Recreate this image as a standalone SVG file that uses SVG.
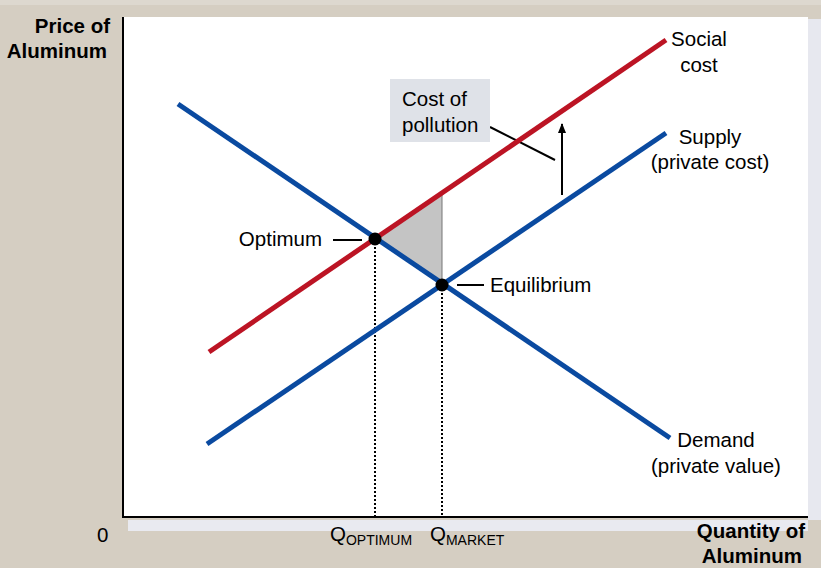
<svg xmlns="http://www.w3.org/2000/svg" width="821" height="568" viewBox="0 0 821 568">
<style>
text{font-family:"Liberation Sans",Arial,sans-serif;fill:#000}
.lbl{font-size:20.5px}
.ax{font-size:20.5px;font-weight:bold}
.sub{font-size:14px}
.blue{stroke:#0a4aa0;stroke-width:5;fill:none}
.red{stroke:#bc1424;stroke-width:5;fill:none}
.dot{stroke:#000;stroke-width:2;stroke-dasharray:2 2;fill:none}
.lead{stroke:#000;stroke-width:2;fill:none}
</style>
<defs>
<marker id="ah" viewBox="0 0 10 10" refX="9" refY="5" markerWidth="5" markerHeight="5" orient="auto"><path d="M0,1 L10,5 L0,9 Z" fill="#000"/></marker>
</defs>
<rect x="0" y="0" width="821" height="568" fill="#d5cec2"/>
<rect x="0" y="0" width="821" height="5" fill="#ddd8cf"/>
<rect x="808" y="19" width="13" height="501" fill="#e7e8ef"/>
<rect x="128" y="520" width="680" height="11" fill="#e9eaf0"/>
<rect x="124" y="17" width="684" height="500" fill="#fff"/>
<g id="axes">
<line x1="123" y1="17" x2="123" y2="518" stroke="#000" stroke-width="2"/>
<line x1="122" y1="517" x2="808" y2="517" stroke="#000" stroke-width="2"/>
</g>
<g id="area">
<polygon points="375,239 442,193 442,285" fill="#c4c4c4"/>
<line x1="442" y1="193" x2="442" y2="285" stroke="#777" stroke-width="1"/>
</g>
<g id="connectors">
<line class="dot" x1="375" y1="239" x2="375" y2="517"/>
<line class="dot" x1="442" y1="285" x2="442" y2="517"/>
<line class="lead" x1="333" y1="240" x2="362" y2="240"/>
<line class="lead" x1="457" y1="285" x2="484" y2="285"/>
<line class="lead" x1="490" y1="127" x2="555" y2="160"/>
<line class="lead" x1="562" y1="195" x2="562" y2="124" marker-end="url(#ah)"/>
</g>
<g id="demand"><line class="blue" x1="178" y1="104" x2="670" y2="438"/>
<text class="lbl" x="716" y="447" text-anchor="middle">Demand</text>
<text class="lbl" x="716" y="473" text-anchor="middle">(private value)</text></g>
<g id="supply"><line class="blue" x1="207" y1="444" x2="666" y2="133"/>
<text class="lbl" x="710" y="144" text-anchor="middle">Supply</text>
<text class="lbl" x="710" y="169" text-anchor="middle">(private cost)</text></g>
<g id="social-cost"><line class="red" x1="209" y1="352" x2="666" y2="40"/>
<text class="lbl" x="699" y="46" text-anchor="middle">Social</text>
<text class="lbl" x="699" y="72" text-anchor="middle">cost</text></g>
<g id="optimum"><circle cx="375" cy="239" r="6.5" fill="#000"/>
<text class="lbl" x="322" y="246" text-anchor="end">Optimum</text></g>
<g id="equilibrium"><circle cx="442" cy="285" r="6.5" fill="#000"/>
<text class="lbl" x="490" y="292">Equilibrium</text></g>
<g id="cost-of-pollution"><rect x="390" y="79" width="100" height="63" fill="#dfe2e8"/>
<text class="lbl" x="402" y="106">Cost of</text>
<text class="lbl" x="402" y="132">pollution</text></g>
<g id="labels">
<text class="ax" x="110" y="33" text-anchor="end">Price of</text>
<text class="ax" x="107" y="58" text-anchor="end">Aluminum</text>
<text class="ax" x="805" y="538" text-anchor="end">Quantity of</text>
<text class="ax" x="802" y="563" text-anchor="end">Aluminum</text>
<text class="lbl" x="97" y="542">0</text>
<text class="lbl" x="330" y="541">Q<tspan class="sub" dy="4">OPTIMUM</tspan></text>
<text class="lbl" x="430" y="541">Q<tspan class="sub" dy="4">MARKET</tspan></text>
</g>
</svg>
